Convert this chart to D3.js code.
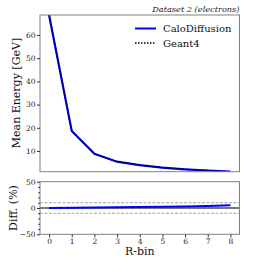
<!DOCTYPE html>
<html><head><meta charset="utf-8">
<script src="https://cdn.jsdelivr.net/npm/d3@7"></script>
<style>body{margin:0;background:#fff}svg{display:block}text{font-family:"DejaVu Serif",serif}</style>
</head><body>
<script>
const rbins = [0,1,2,3,4,5,6,7,8];
const caloDiffusion = [68.6,18.6,8.8,5.4,3.9,2.8,2.1,1.6,1.1];
const geant4 = [68.6,18.6,8.8,5.4,3.9,2.8,2.1,1.6,1.1];
const diffPct = [0,0.5,1,1.5,2,2.5,3,3.8,5];
const yTicksTop = [10,20,30,40,50,60];
const yTicksBottom = [-50,0,50];
const xTicks = [0,1,2,3,4,5,6,7,8];
const seriesNames = ["CaloDiffusion","Geant4"];

const W=266,H=266;
const svg=d3.select("body").append("svg").attr("width",W).attr("height",H);
const L=40,R=239.5;
const x=d3.scaleLinear().domain([-0.4,8.4]).range([L,R]);
const yT=d3.scaleLinear().domain([1.08,68.6]).range([171.7,15]);
const yB=d3.scaleLinear().domain([-50,50]).range([234.3,181.7]);
const spine="#808080";

function frame(y0,y1){
  svg.append("rect").attr("x",L).attr("y",y0).attr("width",R-L).attr("height",y1-y0)
    .attr("fill","none").attr("stroke",spine).attr("stroke-width",1);
}
// top panel
const clipT=svg.append("clipPath").attr("id","ct").append("rect").attr("x",L).attr("y",15).attr("width",R-L).attr("height",171.7-15);
const line=d3.line().x((d,i)=>x(rbins[i])).y(d=>yT(d));
svg.append("path").datum(caloDiffusion).attr("d",line).attr("fill","none").attr("stroke","#0000ff").attr("stroke-width",2.2).attr("clip-path","url(#ct)");
svg.append("path").datum(geant4).attr("d",line).attr("fill","none").attr("stroke","#000").attr("stroke-width",1.3).attr("stroke-dasharray","1.5,1.5").attr("clip-path","url(#ct)");
frame(15,171.7);
const axT=svg.append("g").attr("transform",`translate(${L},0)`).call(d3.axisLeft(yT).tickValues(yTicksTop).tickSize(3).tickPadding(1.5));
axT.select(".domain").remove();
axT.selectAll("line").attr("stroke","#333");
axT.selectAll("text").attr("font-size",7.5).attr("fill","#222").style("font-family","DejaVu Serif");

// bottom panel
const dl=d3.line().x((d,i)=>x(rbins[i])).y(d=>yB(d));
[10,-10].forEach(v=>svg.append("line").attr("x1",L).attr("x2",R).attr("y1",yB(v)).attr("y2",yB(v)).attr("stroke","#999").attr("stroke-width",0.9).attr("stroke-dasharray","3,1.5"));
svg.append("line").attr("x1",L).attr("x2",R).attr("y1",yB(0)).attr("y2",yB(0)).attr("stroke","#777").attr("stroke-width",2);
svg.append("path").datum(diffPct).attr("d",dl).attr("fill","none").attr("stroke","#0000ff").attr("stroke-width",2);
frame(181.7,234.3);
const axB=svg.append("g").attr("transform",`translate(${L},0)`).call(d3.axisLeft(yB).tickValues(yTicksBottom).tickSize(3).tickPadding(1.5).tickFormat(d=>d<0?"\u2212"+Math.abs(d):d));
axB.select(".domain").remove();
axB.selectAll("line").attr("stroke","#333");
axB.selectAll("text").attr("font-size",7.5).attr("fill","#222").style("font-family","DejaVu Serif");
const minor=d3.range(-40,50,10).filter(v=>v!==0);
svg.append("g").attr("transform",`translate(${L},0)`).call(d3.axisLeft(yB).tickValues(minor).tickSize(1.8).tickFormat("")).call(g=>{g.select(".domain").remove();g.selectAll("line").attr("stroke","#333");});
const axX=svg.append("g").attr("transform",`translate(0,234.3)`).call(d3.axisBottom(x).tickValues(xTicks).tickSize(3).tickPadding(1.5));
axX.select(".domain").remove();
axX.selectAll("line").attr("stroke","#333");
axX.selectAll("text").attr("font-size",7.5).attr("fill","#222").style("font-family","DejaVu Serif");

// labels
svg.append("text").attr("transform","translate(19.5,93) rotate(-90)").attr("text-anchor","middle").attr("font-size",11).attr("fill","#111").text("Mean Energy [GeV]");
svg.append("text").attr("transform","translate(17,208) rotate(-90)").attr("text-anchor","middle").attr("font-size",11).attr("fill","#111").text("Diff. (%)");
svg.append("text").attr("x",(L+R)/2).attr("y",255).attr("text-anchor","middle").attr("font-size",11).attr("fill","#111").text("R-bin");
svg.append("text").attr("x",R).attr("y",12).attr("text-anchor","end").attr("font-size",8.2).attr("font-style","italic").attr("fill","#222").text("Dataset 2 (electrons)");

// legend
const lg=svg.append("g");
lg.append("line").attr("x1",135).attr("x2",156).attr("y1",28.5).attr("y2",28.5).attr("stroke","#0000ff").attr("stroke-width",2);
lg.append("line").attr("x1",135).attr("x2",156).attr("y1",43).attr("y2",43).attr("stroke","#000").attr("stroke-width",1.5).attr("stroke-dasharray","1.5,1.5");
lg.append("text").attr("x",163).attr("y",32).attr("font-size",10).attr("fill","#111").text(seriesNames[0]);
lg.append("text").attr("x",163).attr("y",46.5).attr("font-size",10).attr("fill","#111").text(seriesNames[1]);
</script>
</body></html>
